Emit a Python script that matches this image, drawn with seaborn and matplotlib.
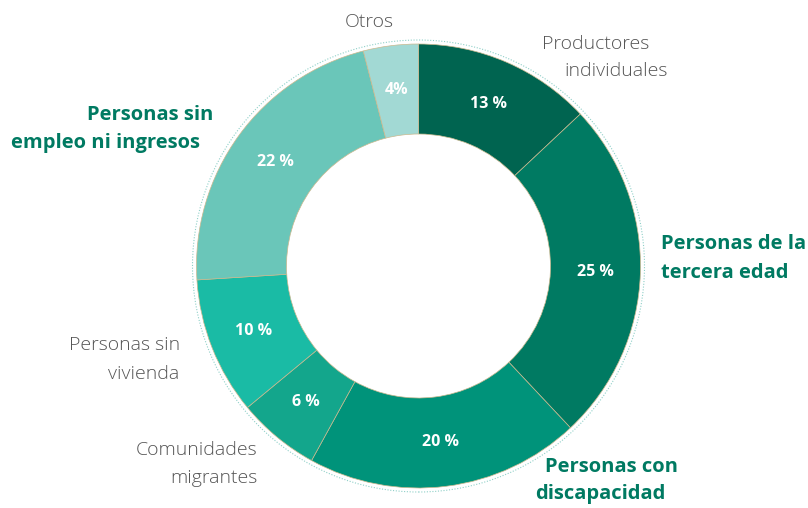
import matplotlib
matplotlib.use("Agg")
import matplotlib.pyplot as plt
import seaborn as sns
from matplotlib.patches import Circle

sns.set_theme(style="white")
plt.rcParams['font.family'] = ['Open Sans', 'DejaVu Sans']

categories = ["Productores individuales", "Personas de la tercera edad", "Personas con discapacidad",
              "Comunidades migrantes", "Personas sin vivienda", "Personas sin empleo ni ingresos", "Otros"]
values = [13, 25, 20, 6, 10, 22, 4]
pct_labels = ["13 %", "25 %", "20 %", "6 %", "10 %", "22 %", "4%"]
colors = ["#006450", "#007a62", "#00937a", "#13a68c", "#1abba5", "#6ac6b9", "#a2d9d4"]

W, H = 808, 508
fig = plt.figure(figsize=(W / 100, H / 100), dpi=100)
ax = fig.add_axes([0, 0, 1, 1])

cx, cy = 418.5, H - 266
R = 222
inner = 132
width = R - inner

pct_iter = iter(pct_labels)
wedges, texts, autotexts = ax.pie(
    values, colors=colors, startangle=90, counterclock=False,
    center=(cx, cy), radius=R, frame=True,
    wedgeprops=dict(width=width, edgecolor="#c9b88e", linewidth=0.5),
    autopct=lambda p: next(pct_iter), pctdistance=(R - width / 2) / R,
    textprops=dict(color="white", fontsize=11.5, fontweight="bold",
                   family=['Open Sans', 'DejaVu Sans']))
ax.set_xlim(0, W)
ax.set_ylim(0, H)
ax.set_aspect('equal')
ax.axis('off')

ax.add_patch(Circle((cx, cy), R + 4, fill=False, edgecolor="#8fd0c8",
                    linestyle=(0, (1, 1.5)), linewidth=0.8))

gray = "#555555"
green = "#007a62"
fs_n = 14
fs_b = 14.5


def lab(x, y, s, ha, bold=False):
    ax.text(x, H - y, s, ha=ha, va='center', fontsize=fs_b if bold else fs_n,
            fontweight='bold' if bold else 'light', color=green if bold else gray)


lab(369, 22, "Otros", 'center')
lab(596, 44, "Productores", 'center')
lab(616, 71, "individuales", 'center')
lab(661, 244, "Personas de la", 'left', True)
lab(661, 273, "tercera edad", 'left', True)
lab(545, 467, "Personas con", 'left', True)
lab(535, 494, "discapacidad", 'left', True)
lab(257, 450, "Comunidades", 'right')
lab(257, 478, "migrantes", 'right')
lab(180, 345, "Personas sin", 'right')
lab(179, 374, "vivienda", 'right')
lab(213, 115, "Personas sin", 'right', True)
lab(200, 143, "empleo ni ingresos", 'right', True)

fig.savefig("out.png", dpi=100)
